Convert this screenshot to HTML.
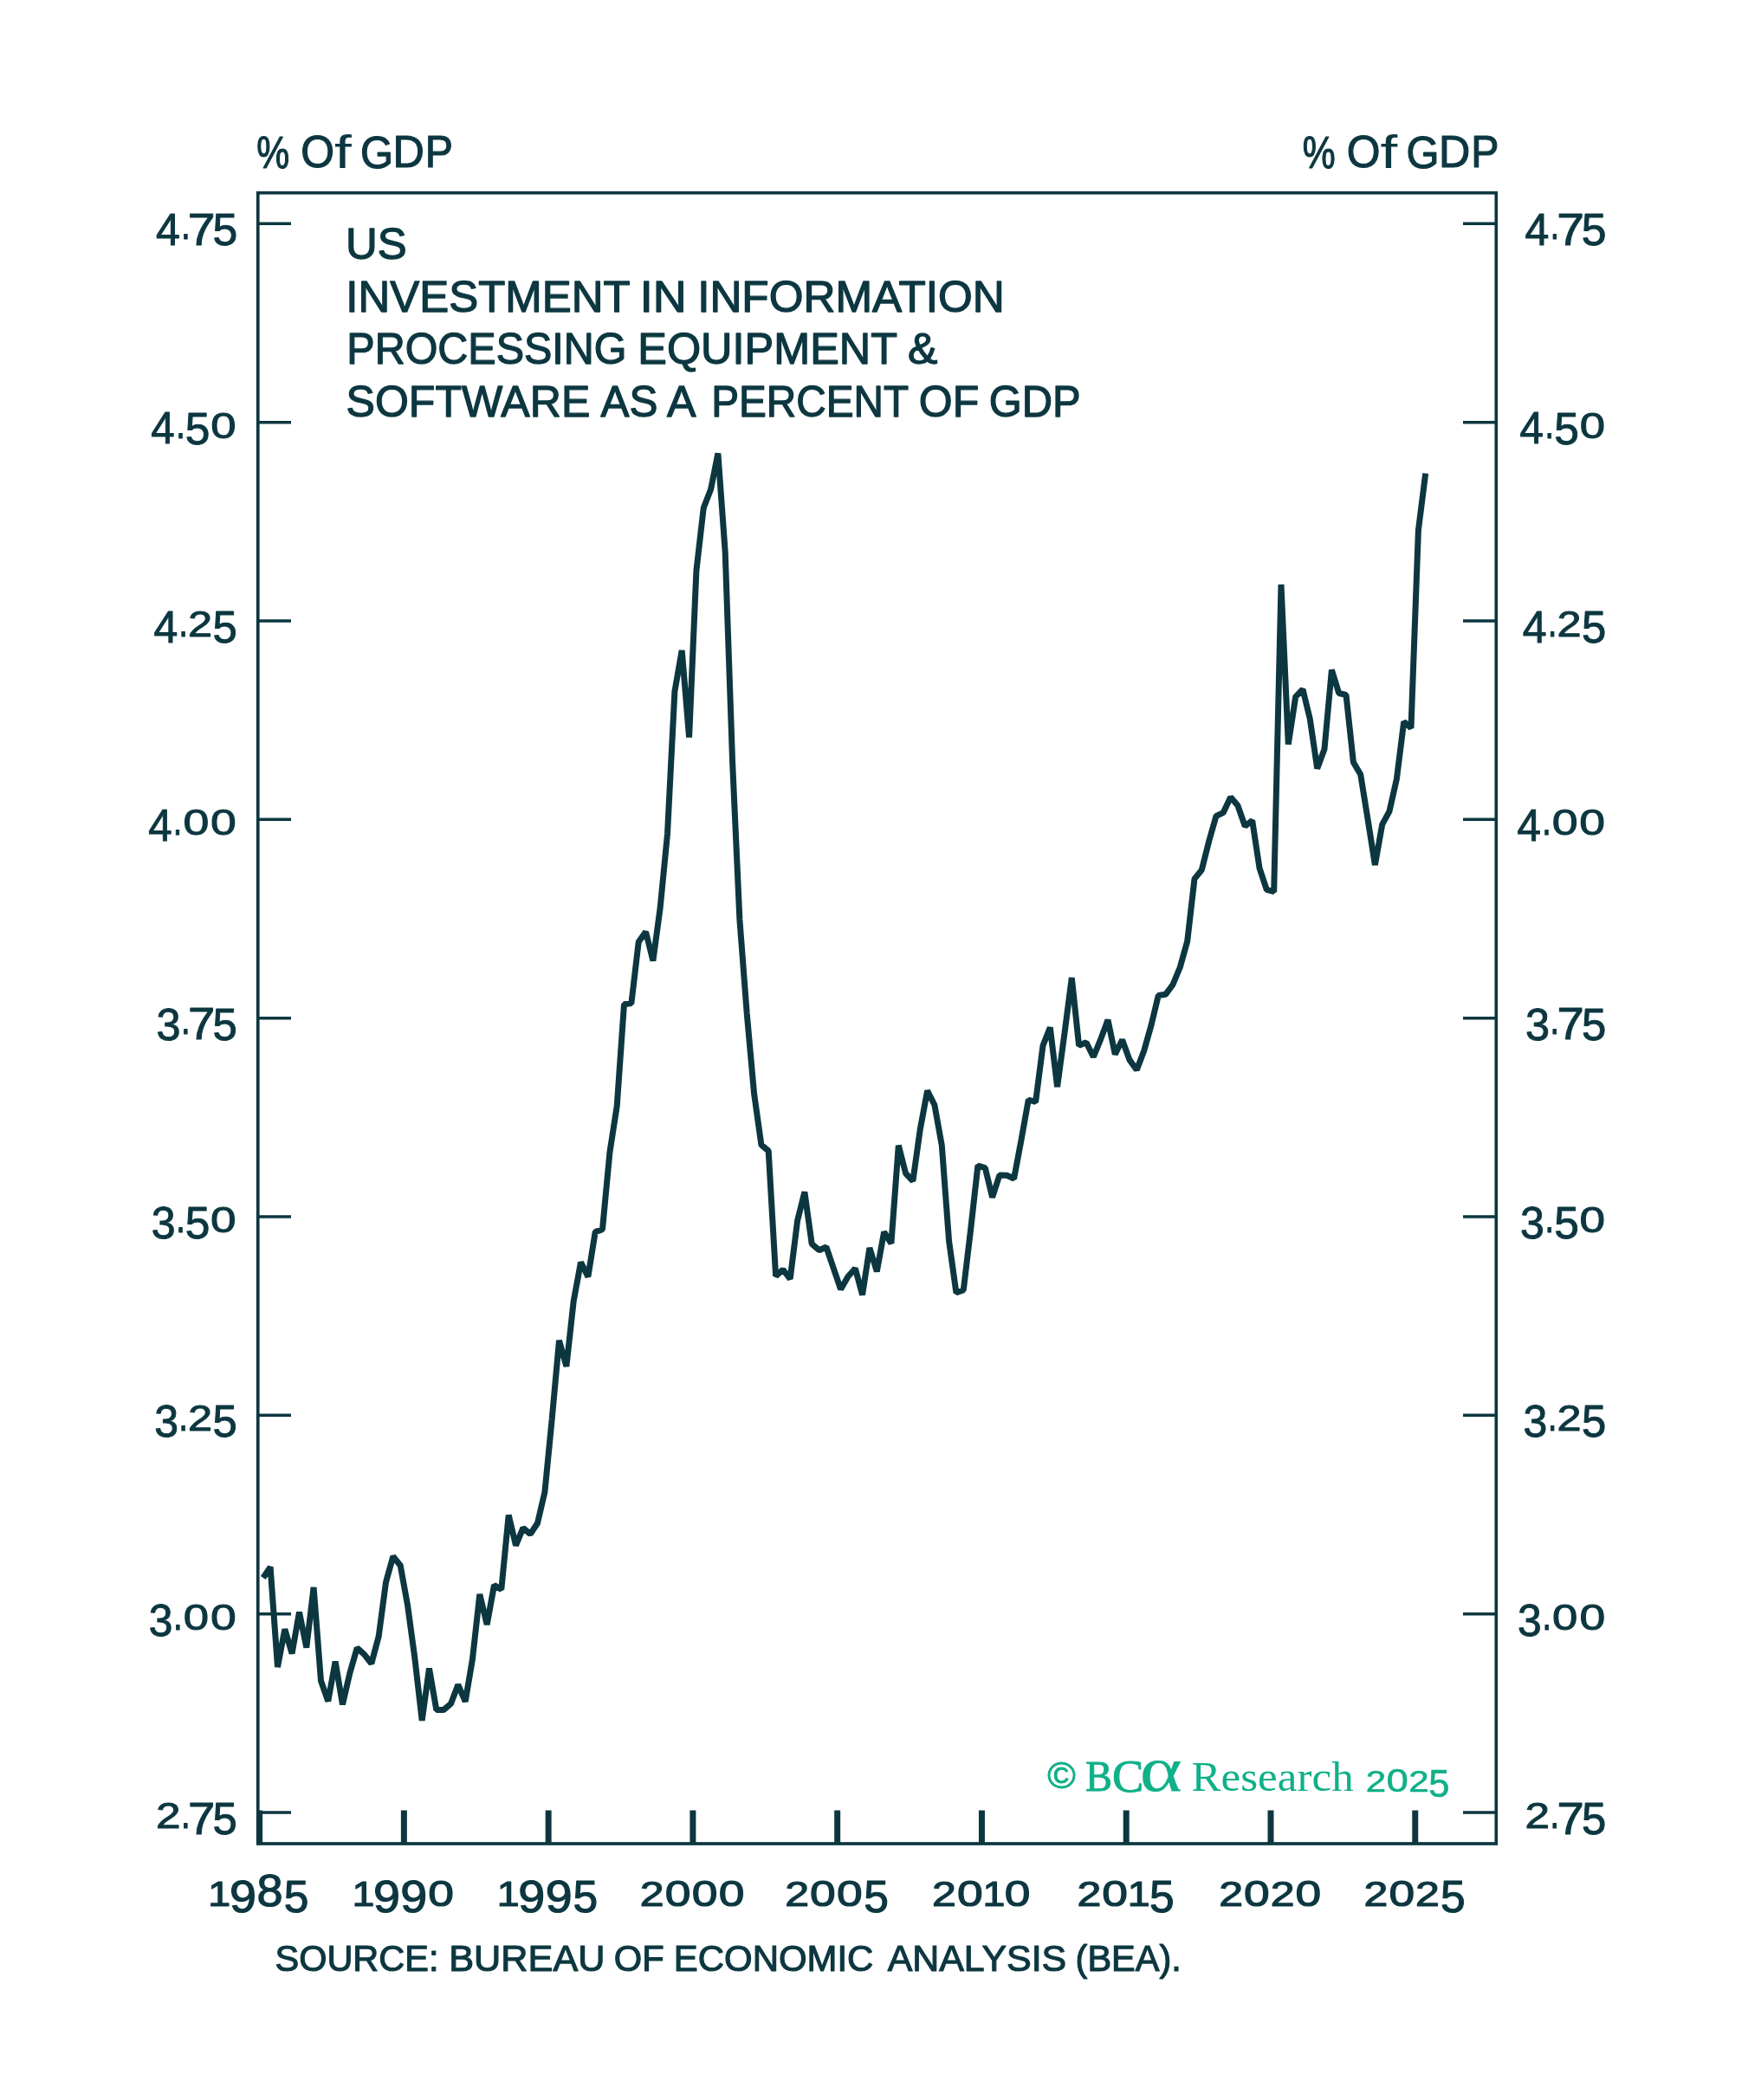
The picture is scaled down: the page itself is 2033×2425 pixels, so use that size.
<!DOCTYPE html>
<html lang="en"><head><meta charset="utf-8"><title>US Investment in Information Processing Equipment &amp; Software as a Percent of GDP</title>
<style>html,body{margin:0;padding:0;background:#fff;}svg{display:block;will-change:transform}</style></head><body>
<svg width="2033" height="2425" viewBox="0 0 2033 2425">
<rect width="2033" height="2425" fill="#fff"/>
<g fill="none" stroke="#0d3740">
<rect x="297.75" y="222.70" width="1429.55" height="1906.30" stroke-width="3.7"/>
<line x1="297.75" y1="258.30" x2="336" y2="258.30" stroke-width="3.5"/>
<line x1="1689" y1="258.30" x2="1727.30" y2="258.30" stroke-width="3.5"/>
<line x1="297.75" y1="487.64" x2="336" y2="487.64" stroke-width="3.5"/>
<line x1="1689" y1="487.64" x2="1727.30" y2="487.64" stroke-width="3.5"/>
<line x1="297.75" y1="716.98" x2="336" y2="716.98" stroke-width="3.5"/>
<line x1="1689" y1="716.98" x2="1727.30" y2="716.98" stroke-width="3.5"/>
<line x1="297.75" y1="946.32" x2="336" y2="946.32" stroke-width="3.5"/>
<line x1="1689" y1="946.32" x2="1727.30" y2="946.32" stroke-width="3.5"/>
<line x1="297.75" y1="1175.66" x2="336" y2="1175.66" stroke-width="3.5"/>
<line x1="1689" y1="1175.66" x2="1727.30" y2="1175.66" stroke-width="3.5"/>
<line x1="297.75" y1="1405.00" x2="336" y2="1405.00" stroke-width="3.5"/>
<line x1="1689" y1="1405.00" x2="1727.30" y2="1405.00" stroke-width="3.5"/>
<line x1="297.75" y1="1634.34" x2="336" y2="1634.34" stroke-width="3.5"/>
<line x1="1689" y1="1634.34" x2="1727.30" y2="1634.34" stroke-width="3.5"/>
<line x1="297.75" y1="1863.68" x2="336" y2="1863.68" stroke-width="3.5"/>
<line x1="1689" y1="1863.68" x2="1727.30" y2="1863.68" stroke-width="3.5"/>
<line x1="297.75" y1="2093.02" x2="336" y2="2093.02" stroke-width="3.5"/>
<line x1="1689" y1="2093.02" x2="1727.30" y2="2093.02" stroke-width="3.5"/>
<line x1="299.60" y1="2090.5" x2="299.60" y2="2129.00" stroke-width="7"/>
<line x1="466.37" y1="2090.5" x2="466.37" y2="2129.00" stroke-width="7"/>
<line x1="633.14" y1="2090.5" x2="633.14" y2="2129.00" stroke-width="7"/>
<line x1="799.91" y1="2090.5" x2="799.91" y2="2129.00" stroke-width="7"/>
<line x1="966.68" y1="2090.5" x2="966.68" y2="2129.00" stroke-width="7"/>
<line x1="1133.45" y1="2090.5" x2="1133.45" y2="2129.00" stroke-width="7"/>
<line x1="1300.22" y1="2090.5" x2="1300.22" y2="2129.00" stroke-width="7"/>
<line x1="1466.99" y1="2090.5" x2="1466.99" y2="2129.00" stroke-width="7"/>
<line x1="1633.76" y1="2090.5" x2="1633.76" y2="2129.00" stroke-width="7"/>
</g>
<polyline fill="none" stroke="#0d3740" stroke-width="7" stroke-linejoin="bevel" stroke-linecap="butt" points="303.8,1822.0 312.1,1809.6 320.5,1925.0 328.8,1881.3 337.1,1909.5 345.5,1861.6 353.8,1902.5 362.1,1833.0 370.5,1941.0 378.8,1964.5 387.1,1918.5 395.5,1968.3 403.8,1932.2 412.2,1903.0 420.5,1910.3 428.8,1921.0 437.2,1889.5 445.5,1827.1 453.8,1797.3 462.2,1807.7 470.5,1853.3 478.8,1914.3 487.2,1986.8 495.5,1926.6 503.8,1974.5 512.2,1974.5 520.5,1967.4 528.8,1945.5 537.2,1964.8 545.5,1915.6 553.8,1841.0 562.2,1876.0 570.5,1830.5 578.8,1835.5 587.2,1749.5 595.5,1784.6 603.9,1764.4 612.2,1771.5 620.5,1759.0 628.9,1723.0 637.2,1638.8 645.5,1547.9 653.9,1577.9 662.2,1502.5 670.5,1457.7 678.9,1474.3 687.2,1422.6 695.5,1419.6 703.9,1331.0 712.2,1277.4 720.5,1159.8 728.9,1158.6 737.2,1087.8 745.5,1076.0 753.9,1109.5 762.2,1048.0 770.5,963.0 778.9,798.5 787.2,751.0 795.6,851.5 803.9,659.2 812.2,586.8 820.6,565.1 828.9,523.5 837.2,637.5 845.6,880.0 853.9,1062.0 862.2,1170.0 870.6,1263.0 878.9,1322.0 887.2,1329.0 895.6,1473.6 903.9,1466.1 912.2,1476.8 920.6,1409.6 928.9,1376.4 937.2,1436.4 945.6,1443.7 953.9,1440.0 962.2,1464.3 970.6,1488.8 978.9,1474.2 987.3,1464.7 995.6,1495.3 1003.9,1441.0 1012.3,1468.3 1020.6,1422.7 1028.9,1435.8 1037.3,1322.7 1045.6,1355.0 1053.9,1363.8 1062.3,1304.0 1070.6,1259.5 1078.9,1276.0 1087.3,1322.7 1095.6,1433.3 1103.9,1492.7 1112.3,1489.7 1120.6,1420.0 1128.9,1346.0 1137.3,1348.5 1145.6,1382.8 1153.9,1357.0 1162.3,1357.2 1170.6,1361.0 1179.0,1316.3 1187.3,1270.0 1195.6,1272.5 1204.0,1207.5 1212.3,1186.5 1220.6,1255.0 1229.0,1193.0 1237.3,1129.0 1245.6,1207.3 1254.0,1203.8 1262.3,1220.5 1270.6,1200.4 1279.0,1177.7 1287.3,1217.5 1295.6,1200.8 1304.0,1223.9 1312.3,1235.5 1320.6,1213.7 1329.0,1184.0 1337.3,1149.5 1345.6,1148.3 1354.0,1137.0 1362.3,1117.0 1370.7,1087.0 1379.0,1014.9 1387.3,1004.6 1395.7,971.4 1404.0,942.3 1412.3,938.3 1420.7,920.5 1429.0,930.3 1437.3,954.0 1445.7,947.5 1454.0,1002.3 1462.3,1027.4 1470.7,1029.6 1479.0,675.0 1487.3,859.5 1495.7,804.6 1504.0,796.0 1512.3,830.3 1520.7,887.6 1529.0,865.0 1537.4,773.5 1545.7,800.5 1554.0,802.4 1562.4,880.2 1570.7,894.3 1579.0,945.8 1587.4,999.0 1595.7,952.2 1604.0,936.8 1612.4,899.5 1620.7,833.5 1629.0,840.5 1637.4,612.6 1645.7,546.6"/>
<text font-family='"Liberation Sans", sans-serif' fill="#0d3740" stroke="#0d3740" stroke-width="1.20" stroke-linejoin="round"><tspan x="296.18" y="193.69" font-size="52.31" textLength="37.94" lengthAdjust="spacingAndGlyphs">%</tspan> <tspan x="347.34" y="193.30" font-size="51.41" textLength="38.74" lengthAdjust="spacingAndGlyphs">O</tspan><tspan x="386.09" y="194.00" font-size="53.20" textLength="19.80" lengthAdjust="spacingAndGlyphs" stroke-width="0.01">f</tspan> <tspan x="415.94" y="193.50" font-size="51.69" textLength="38.01" lengthAdjust="spacingAndGlyphs">G</tspan><tspan x="453.47" y="193.40" font-size="51.75" textLength="36.33" lengthAdjust="spacingAndGlyphs">D</tspan><tspan x="490.64" y="193.40" font-size="51.75" textLength="32.21" lengthAdjust="spacingAndGlyphs">P</tspan></text>
<text font-family='"Liberation Sans", sans-serif' fill="#0d3740" stroke="#0d3740" stroke-width="1.20" stroke-linejoin="round"><tspan x="1503.68" y="193.69" font-size="52.31" textLength="37.94" lengthAdjust="spacingAndGlyphs">%</tspan> <tspan x="1554.84" y="193.30" font-size="51.41" textLength="38.74" lengthAdjust="spacingAndGlyphs">O</tspan><tspan x="1593.59" y="194.00" font-size="53.20" textLength="19.80" lengthAdjust="spacingAndGlyphs" stroke-width="0.01">f</tspan> <tspan x="1623.44" y="193.50" font-size="51.69" textLength="38.01" lengthAdjust="spacingAndGlyphs">G</tspan><tspan x="1660.97" y="193.40" font-size="51.75" textLength="36.33" lengthAdjust="spacingAndGlyphs">D</tspan><tspan x="1698.14" y="193.40" font-size="51.75" textLength="32.21" lengthAdjust="spacingAndGlyphs">P</tspan></text>
<text id="t1" y="299.20" font-family='"Liberation Sans", sans-serif' font-size="49.80" fill="#0d3740" stroke="#0d3740" stroke-width="1.30" stroke-linejoin="round"><tspan x="399.07" textLength="70.65" lengthAdjust="spacingAndGlyphs">US</tspan></text>
<text id="t2" y="360.30" font-family='"Liberation Sans", sans-serif' font-size="49.80" fill="#0d3740" stroke="#0d3740" stroke-width="1.30" stroke-linejoin="round"><tspan x="399.38" textLength="327.38" lengthAdjust="spacingAndGlyphs">INVESTMENT</tspan> <tspan x="738.77" textLength="53.85" lengthAdjust="spacingAndGlyphs">IN</tspan> <tspan x="805.18" textLength="354.52" lengthAdjust="spacingAndGlyphs">INFORMATION</tspan></text>
<text id="t3" y="420.20" font-family='"Liberation Sans", sans-serif' font-size="49.80" fill="#0d3740" stroke="#0d3740" stroke-width="1.30" stroke-linejoin="round"><tspan x="400.32" textLength="323.25" lengthAdjust="spacingAndGlyphs">PROCESSING</tspan> <tspan x="736.31" textLength="298.73" lengthAdjust="spacingAndGlyphs">EQUIPMENT</tspan> <tspan x="1048.04" textLength="34.34" lengthAdjust="spacingAndGlyphs">&amp;</tspan></text>
<text id="t4" y="481.30" font-family='"Liberation Sans", sans-serif' font-size="49.80" fill="#0d3740" stroke="#0d3740" stroke-width="1.30" stroke-linejoin="round"><tspan x="399.56" textLength="281.71" lengthAdjust="spacingAndGlyphs">SOFTWARE</tspan> <tspan x="693.46" textLength="65.89" lengthAdjust="spacingAndGlyphs">AS</tspan> <tspan x="770.13" textLength="30.76" lengthAdjust="spacingAndGlyphs">A</tspan> <tspan x="821.29" textLength="226.92" lengthAdjust="spacingAndGlyphs">PERCENT</tspan> <tspan x="1060.82" textLength="69.40" lengthAdjust="spacingAndGlyphs">OF</tspan> <tspan x="1141.67" textLength="105.83" lengthAdjust="spacingAndGlyphs">GDP</tspan></text>
<text id="src" y="2276.30" font-family='"Liberation Sans", sans-serif' font-size="42.90" fill="#0d3740" stroke="#0d3740" stroke-width="1.20" stroke-linejoin="round"><tspan x="317.50" textLength="188.96" lengthAdjust="spacingAndGlyphs">SOURCE:</tspan> <tspan x="518.27" textLength="180.18" lengthAdjust="spacingAndGlyphs">BUREAU</tspan> <tspan x="708.74" textLength="57.94" lengthAdjust="spacingAndGlyphs">OF</tspan> <tspan x="777.84" textLength="230.54" lengthAdjust="spacingAndGlyphs">ECONOMIC</tspan> <tspan x="1024.73" textLength="206.51" lengthAdjust="spacingAndGlyphs">ANALYSIS</tspan> <tspan x="1241.59" textLength="122.20" lengthAdjust="spacingAndGlyphs">(BEA).</tspan></text>
<text font-family='"Liberation Sans", sans-serif' font-weight="normal" fill="#0d3740" stroke="#0d3740" stroke-width="1.00" stroke-linejoin="round"><tspan x="180.05" y="282.90" font-size="51.16" textLength="27.81" lengthAdjust="spacingAndGlyphs">4</tspan><tspan x="209.05" y="276.30" font-size="51.43" textLength="10.80" lengthAdjust="spacingAndGlyphs">.</tspan><tspan x="216.77" y="283.00" font-size="52.33" textLength="31.81" lengthAdjust="spacingAndGlyphs">7</tspan><tspan x="245.43" y="283.39" font-size="51.74" textLength="28.74" lengthAdjust="spacingAndGlyphs">5</tspan></text>
<text font-family='"Liberation Sans", sans-serif' font-weight="normal" fill="#0d3740" stroke="#0d3740" stroke-width="1.00" stroke-linejoin="round"><tspan x="1760.45" y="282.90" font-size="51.16" textLength="27.81" lengthAdjust="spacingAndGlyphs">4</tspan><tspan x="1789.45" y="276.30" font-size="51.43" textLength="10.80" lengthAdjust="spacingAndGlyphs">.</tspan><tspan x="1797.17" y="283.00" font-size="52.33" textLength="31.81" lengthAdjust="spacingAndGlyphs">7</tspan><tspan x="1825.83" y="283.39" font-size="51.74" textLength="28.74" lengthAdjust="spacingAndGlyphs">5</tspan></text>
<text font-family='"Liberation Sans", sans-serif' font-weight="normal" fill="#0d3740" stroke="#0d3740" stroke-width="1.00" stroke-linejoin="round"><tspan x="174.17" y="512.24" font-size="51.16" textLength="27.37" lengthAdjust="spacingAndGlyphs">4</tspan><tspan x="202.96" y="505.64" font-size="51.43" textLength="11.09" lengthAdjust="spacingAndGlyphs">.</tspan><tspan x="213.84" y="512.73" font-size="51.74" textLength="28.62" lengthAdjust="spacingAndGlyphs">5</tspan><tspan x="243.34" y="505.52" font-size="42.80" textLength="29.32" lengthAdjust="spacingAndGlyphs">0</tspan></text>
<text font-family='"Liberation Sans", sans-serif' font-weight="normal" fill="#0d3740" stroke="#0d3740" stroke-width="1.00" stroke-linejoin="round"><tspan x="1754.57" y="512.24" font-size="51.16" textLength="27.37" lengthAdjust="spacingAndGlyphs">4</tspan><tspan x="1783.36" y="505.64" font-size="51.43" textLength="11.09" lengthAdjust="spacingAndGlyphs">.</tspan><tspan x="1794.24" y="512.73" font-size="51.74" textLength="28.62" lengthAdjust="spacingAndGlyphs">5</tspan><tspan x="1823.74" y="505.52" font-size="42.80" textLength="29.32" lengthAdjust="spacingAndGlyphs">0</tspan></text>
<text font-family='"Liberation Sans", sans-serif' font-weight="normal" fill="#0d3740" stroke="#0d3740" stroke-width="1.00" stroke-linejoin="round"><tspan x="177.45" y="741.58" font-size="51.16" textLength="27.81" lengthAdjust="spacingAndGlyphs">4</tspan><tspan x="206.25" y="734.98" font-size="51.43" textLength="10.80" lengthAdjust="spacingAndGlyphs">.</tspan><tspan x="217.06" y="734.98" font-size="41.82" textLength="28.08" lengthAdjust="spacingAndGlyphs">2</tspan><tspan x="245.56" y="742.07" font-size="51.74" textLength="28.27" lengthAdjust="spacingAndGlyphs">5</tspan></text>
<text font-family='"Liberation Sans", sans-serif' font-weight="normal" fill="#0d3740" stroke="#0d3740" stroke-width="1.00" stroke-linejoin="round"><tspan x="1757.85" y="741.58" font-size="51.16" textLength="27.81" lengthAdjust="spacingAndGlyphs">4</tspan><tspan x="1786.65" y="734.98" font-size="51.43" textLength="10.80" lengthAdjust="spacingAndGlyphs">.</tspan><tspan x="1797.46" y="734.98" font-size="41.82" textLength="28.08" lengthAdjust="spacingAndGlyphs">2</tspan><tspan x="1825.96" y="742.07" font-size="51.74" textLength="28.27" lengthAdjust="spacingAndGlyphs">5</tspan></text>
<text font-family='"Liberation Sans", sans-serif' font-weight="normal" fill="#0d3740" stroke="#0d3740" stroke-width="1.00" stroke-linejoin="round"><tspan x="171.17" y="970.92" font-size="51.16" textLength="27.37" lengthAdjust="spacingAndGlyphs">4</tspan><tspan x="199.85" y="964.32" font-size="51.43" textLength="10.50" lengthAdjust="spacingAndGlyphs">.</tspan><tspan x="211.40" y="964.20" font-size="42.80" textLength="29.90" lengthAdjust="spacingAndGlyphs">0</tspan><tspan x="242.91" y="964.20" font-size="42.80" textLength="29.78" lengthAdjust="spacingAndGlyphs">0</tspan></text>
<text font-family='"Liberation Sans", sans-serif' font-weight="normal" fill="#0d3740" stroke="#0d3740" stroke-width="1.00" stroke-linejoin="round"><tspan x="1751.57" y="970.92" font-size="51.16" textLength="27.37" lengthAdjust="spacingAndGlyphs">4</tspan><tspan x="1780.25" y="964.32" font-size="51.43" textLength="10.50" lengthAdjust="spacingAndGlyphs">.</tspan><tspan x="1791.80" y="964.20" font-size="42.80" textLength="29.90" lengthAdjust="spacingAndGlyphs">0</tspan><tspan x="1823.31" y="964.20" font-size="42.80" textLength="29.78" lengthAdjust="spacingAndGlyphs">0</tspan></text>
<text font-family='"Liberation Sans", sans-serif' font-weight="normal" fill="#0d3740" stroke="#0d3740" stroke-width="1.00" stroke-linejoin="round"><tspan x="180.58" y="1200.76" font-size="51.41" textLength="28.04" lengthAdjust="spacingAndGlyphs">3</tspan><tspan x="208.86" y="1193.66" font-size="51.43" textLength="11.09" lengthAdjust="spacingAndGlyphs">.</tspan><tspan x="217.01" y="1200.36" font-size="52.33" textLength="31.32" lengthAdjust="spacingAndGlyphs">7</tspan><tspan x="245.56" y="1200.75" font-size="51.74" textLength="28.27" lengthAdjust="spacingAndGlyphs">5</tspan></text>
<text font-family='"Liberation Sans", sans-serif' font-weight="normal" fill="#0d3740" stroke="#0d3740" stroke-width="1.00" stroke-linejoin="round"><tspan x="1760.98" y="1200.76" font-size="51.41" textLength="28.04" lengthAdjust="spacingAndGlyphs">3</tspan><tspan x="1789.26" y="1193.66" font-size="51.43" textLength="11.09" lengthAdjust="spacingAndGlyphs">.</tspan><tspan x="1797.41" y="1200.36" font-size="52.33" textLength="31.32" lengthAdjust="spacingAndGlyphs">7</tspan><tspan x="1825.96" y="1200.75" font-size="51.74" textLength="28.27" lengthAdjust="spacingAndGlyphs">5</tspan></text>
<text font-family='"Liberation Sans", sans-serif' font-weight="normal" fill="#0d3740" stroke="#0d3740" stroke-width="1.00" stroke-linejoin="round"><tspan x="174.70" y="1430.10" font-size="51.41" textLength="27.80" lengthAdjust="spacingAndGlyphs">3</tspan><tspan x="202.96" y="1423.00" font-size="51.43" textLength="11.09" lengthAdjust="spacingAndGlyphs">.</tspan><tspan x="213.84" y="1430.09" font-size="51.74" textLength="28.62" lengthAdjust="spacingAndGlyphs">5</tspan><tspan x="243.12" y="1422.88" font-size="42.80" textLength="29.55" lengthAdjust="spacingAndGlyphs">0</tspan></text>
<text font-family='"Liberation Sans", sans-serif' font-weight="normal" fill="#0d3740" stroke="#0d3740" stroke-width="1.00" stroke-linejoin="round"><tspan x="1755.10" y="1430.10" font-size="51.41" textLength="27.80" lengthAdjust="spacingAndGlyphs">3</tspan><tspan x="1783.36" y="1423.00" font-size="51.43" textLength="11.09" lengthAdjust="spacingAndGlyphs">.</tspan><tspan x="1794.24" y="1430.09" font-size="51.74" textLength="28.62" lengthAdjust="spacingAndGlyphs">5</tspan><tspan x="1823.52" y="1422.88" font-size="42.80" textLength="29.55" lengthAdjust="spacingAndGlyphs">0</tspan></text>
<text font-family='"Liberation Sans", sans-serif' font-weight="normal" fill="#0d3740" stroke="#0d3740" stroke-width="1.00" stroke-linejoin="round"><tspan x="178.20" y="1659.44" font-size="51.41" textLength="27.80" lengthAdjust="spacingAndGlyphs">3</tspan><tspan x="206.25" y="1652.34" font-size="51.43" textLength="10.80" lengthAdjust="spacingAndGlyphs">.</tspan><tspan x="217.06" y="1652.34" font-size="41.82" textLength="28.08" lengthAdjust="spacingAndGlyphs">2</tspan><tspan x="245.56" y="1659.43" font-size="51.74" textLength="28.27" lengthAdjust="spacingAndGlyphs">5</tspan></text>
<text font-family='"Liberation Sans", sans-serif' font-weight="normal" fill="#0d3740" stroke="#0d3740" stroke-width="1.00" stroke-linejoin="round"><tspan x="1758.60" y="1659.44" font-size="51.41" textLength="27.80" lengthAdjust="spacingAndGlyphs">3</tspan><tspan x="1786.65" y="1652.34" font-size="51.43" textLength="10.80" lengthAdjust="spacingAndGlyphs">.</tspan><tspan x="1797.46" y="1652.34" font-size="41.82" textLength="28.08" lengthAdjust="spacingAndGlyphs">2</tspan><tspan x="1825.96" y="1659.43" font-size="51.74" textLength="28.27" lengthAdjust="spacingAndGlyphs">5</tspan></text>
<text font-family='"Liberation Sans", sans-serif' font-weight="normal" fill="#0d3740" stroke="#0d3740" stroke-width="1.00" stroke-linejoin="round"><tspan x="171.70" y="1888.78" font-size="51.41" textLength="27.68" lengthAdjust="spacingAndGlyphs">3</tspan><tspan x="199.76" y="1881.68" font-size="51.43" textLength="11.09" lengthAdjust="spacingAndGlyphs">.</tspan><tspan x="211.74" y="1881.56" font-size="42.80" textLength="29.32" lengthAdjust="spacingAndGlyphs">0</tspan><tspan x="243.11" y="1881.56" font-size="42.80" textLength="29.78" lengthAdjust="spacingAndGlyphs">0</tspan></text>
<text font-family='"Liberation Sans", sans-serif' font-weight="normal" fill="#0d3740" stroke="#0d3740" stroke-width="1.00" stroke-linejoin="round"><tspan x="1752.10" y="1888.78" font-size="51.41" textLength="27.68" lengthAdjust="spacingAndGlyphs">3</tspan><tspan x="1780.16" y="1881.68" font-size="51.43" textLength="11.09" lengthAdjust="spacingAndGlyphs">.</tspan><tspan x="1792.14" y="1881.56" font-size="42.80" textLength="29.32" lengthAdjust="spacingAndGlyphs">0</tspan><tspan x="1823.51" y="1881.56" font-size="42.80" textLength="29.78" lengthAdjust="spacingAndGlyphs">0</tspan></text>
<text font-family='"Liberation Sans", sans-serif' font-weight="normal" fill="#0d3740" stroke="#0d3740" stroke-width="1.00" stroke-linejoin="round"><tspan x="180.02" y="2111.02" font-size="41.82" textLength="28.57" lengthAdjust="spacingAndGlyphs">2</tspan><tspan x="208.86" y="2111.02" font-size="51.43" textLength="11.09" lengthAdjust="spacingAndGlyphs">.</tspan><tspan x="217.01" y="2117.72" font-size="52.33" textLength="31.32" lengthAdjust="spacingAndGlyphs">7</tspan><tspan x="245.56" y="2118.11" font-size="51.74" textLength="28.27" lengthAdjust="spacingAndGlyphs">5</tspan></text>
<text font-family='"Liberation Sans", sans-serif' font-weight="normal" fill="#0d3740" stroke="#0d3740" stroke-width="1.00" stroke-linejoin="round"><tspan x="1760.42" y="2111.02" font-size="41.82" textLength="28.57" lengthAdjust="spacingAndGlyphs">2</tspan><tspan x="1789.26" y="2111.02" font-size="51.43" textLength="11.09" lengthAdjust="spacingAndGlyphs">.</tspan><tspan x="1797.41" y="2117.72" font-size="52.33" textLength="31.32" lengthAdjust="spacingAndGlyphs">7</tspan><tspan x="1825.96" y="2118.11" font-size="51.74" textLength="28.27" lengthAdjust="spacingAndGlyphs">5</tspan></text>
<text font-family='"Liberation Sans", sans-serif' font-weight="normal" fill="#0d3740" stroke="#0d3740" stroke-width="1.20" stroke-linejoin="round"><tspan x="240.35" y="2201.10" font-size="41.57" textLength="25.93" lengthAdjust="spacingAndGlyphs">1</tspan><tspan x="264.99" y="2208.40" font-size="51.27" textLength="30.94" lengthAdjust="spacingAndGlyphs">9</tspan><tspan x="296.55" y="2200.90" font-size="51.27" textLength="30.10" lengthAdjust="spacingAndGlyphs">8</tspan><tspan x="327.84" y="2208.39" font-size="52.02" textLength="28.62" lengthAdjust="spacingAndGlyphs">5</tspan></text>
<text font-family='"Liberation Sans", sans-serif' font-weight="normal" fill="#0d3740" stroke="#0d3740" stroke-width="1.20" stroke-linejoin="round"><tspan x="406.42" y="2201.10" font-size="41.57" textLength="25.93" lengthAdjust="spacingAndGlyphs">1</tspan><tspan x="431.06" y="2208.40" font-size="51.27" textLength="30.94" lengthAdjust="spacingAndGlyphs">9</tspan><tspan x="462.36" y="2208.40" font-size="51.27" textLength="30.94" lengthAdjust="spacingAndGlyphs">9</tspan><tspan x="494.19" y="2200.88" font-size="42.94" textLength="29.67" lengthAdjust="spacingAndGlyphs">0</tspan></text>
<text font-family='"Liberation Sans", sans-serif' font-weight="normal" fill="#0d3740" stroke="#0d3740" stroke-width="1.20" stroke-linejoin="round"><tspan x="573.74" y="2201.10" font-size="41.57" textLength="25.93" lengthAdjust="spacingAndGlyphs">1</tspan><tspan x="598.38" y="2208.40" font-size="51.27" textLength="30.94" lengthAdjust="spacingAndGlyphs">9</tspan><tspan x="629.68" y="2208.40" font-size="51.27" textLength="30.94" lengthAdjust="spacingAndGlyphs">9</tspan><tspan x="661.53" y="2208.39" font-size="52.02" textLength="28.62" lengthAdjust="spacingAndGlyphs">5</tspan></text>
<text font-family='"Liberation Sans", sans-serif' font-weight="normal" fill="#0d3740" stroke="#0d3740" stroke-width="1.20" stroke-linejoin="round"><tspan x="738.84" y="2200.50" font-size="40.96" textLength="27.83" lengthAdjust="spacingAndGlyphs">2</tspan><tspan x="767.68" y="2200.88" font-size="42.94" textLength="29.67" lengthAdjust="spacingAndGlyphs">0</tspan><tspan x="798.78" y="2200.88" font-size="42.94" textLength="29.67" lengthAdjust="spacingAndGlyphs">0</tspan><tspan x="829.88" y="2200.88" font-size="42.94" textLength="29.67" lengthAdjust="spacingAndGlyphs">0</tspan></text>
<text font-family='"Liberation Sans", sans-serif' font-weight="normal" fill="#0d3740" stroke="#0d3740" stroke-width="1.20" stroke-linejoin="round"><tspan x="906.16" y="2200.50" font-size="40.96" textLength="27.83" lengthAdjust="spacingAndGlyphs">2</tspan><tspan x="935.00" y="2200.88" font-size="42.94" textLength="29.67" lengthAdjust="spacingAndGlyphs">0</tspan><tspan x="966.10" y="2200.88" font-size="42.94" textLength="29.67" lengthAdjust="spacingAndGlyphs">0</tspan><tspan x="997.22" y="2208.39" font-size="52.02" textLength="28.62" lengthAdjust="spacingAndGlyphs">5</tspan></text>
<text font-family='"Liberation Sans", sans-serif' font-weight="normal" fill="#0d3740" stroke="#0d3740" stroke-width="1.20" stroke-linejoin="round"><tspan x="1076.08" y="2200.50" font-size="40.96" textLength="27.83" lengthAdjust="spacingAndGlyphs">2</tspan><tspan x="1104.92" y="2200.88" font-size="42.94" textLength="29.67" lengthAdjust="spacingAndGlyphs">0</tspan><tspan x="1134.55" y="2201.10" font-size="41.57" textLength="25.93" lengthAdjust="spacingAndGlyphs">1</tspan><tspan x="1159.72" y="2200.88" font-size="42.94" textLength="29.67" lengthAdjust="spacingAndGlyphs">0</tspan></text>
<text font-family='"Liberation Sans", sans-serif' font-weight="normal" fill="#0d3740" stroke="#0d3740" stroke-width="1.20" stroke-linejoin="round"><tspan x="1243.40" y="2200.50" font-size="40.96" textLength="27.83" lengthAdjust="spacingAndGlyphs">2</tspan><tspan x="1272.24" y="2200.88" font-size="42.94" textLength="29.67" lengthAdjust="spacingAndGlyphs">0</tspan><tspan x="1301.87" y="2201.10" font-size="41.57" textLength="25.93" lengthAdjust="spacingAndGlyphs">1</tspan><tspan x="1327.06" y="2208.39" font-size="52.02" textLength="28.62" lengthAdjust="spacingAndGlyphs">5</tspan></text>
<text font-family='"Liberation Sans", sans-serif' font-weight="normal" fill="#0d3740" stroke="#0d3740" stroke-width="1.20" stroke-linejoin="round"><tspan x="1407.27" y="2200.50" font-size="40.96" textLength="27.83" lengthAdjust="spacingAndGlyphs">2</tspan><tspan x="1436.11" y="2200.88" font-size="42.94" textLength="29.67" lengthAdjust="spacingAndGlyphs">0</tspan><tspan x="1466.77" y="2200.50" font-size="40.96" textLength="27.83" lengthAdjust="spacingAndGlyphs">2</tspan><tspan x="1495.61" y="2200.88" font-size="42.94" textLength="29.67" lengthAdjust="spacingAndGlyphs">0</tspan></text>
<text font-family='"Liberation Sans", sans-serif' font-weight="normal" fill="#0d3740" stroke="#0d3740" stroke-width="1.20" stroke-linejoin="round"><tspan x="1574.59" y="2200.50" font-size="40.96" textLength="27.83" lengthAdjust="spacingAndGlyphs">2</tspan><tspan x="1603.43" y="2200.88" font-size="42.94" textLength="29.67" lengthAdjust="spacingAndGlyphs">0</tspan><tspan x="1634.09" y="2200.50" font-size="40.96" textLength="27.83" lengthAdjust="spacingAndGlyphs">2</tspan><tspan x="1662.95" y="2208.39" font-size="52.02" textLength="28.62" lengthAdjust="spacingAndGlyphs">5</tspan></text>
<text font-family='"Liberation Sans", sans-serif' font-weight="normal" fill="#10b088" stroke="#10b088" stroke-width="0.90" stroke-linejoin="round"><tspan x="1209.28" y="2064.91" font-size="43.20" textLength="32.56" lengthAdjust="spacingAndGlyphs">©</tspan></text>
<text font-family='"Liberation Serif", serif' font-weight="normal" fill="#10b088" stroke="#10b088" stroke-width="1.00" stroke-linejoin="round"><tspan x="1253.37" y="2068.15" font-size="51.54" textLength="30.78" lengthAdjust="spacingAndGlyphs">B</tspan><tspan x="1284.07" y="2068.68" font-size="53.28" textLength="36.34" lengthAdjust="spacingAndGlyphs">C</tspan></text>
<text font-family='"Liberation Serif", serif' font-weight="normal" fill="#10b088" stroke="#10b088" stroke-width="0.20" stroke-linejoin="round"><tspan x="1315.73" y="2068.18" font-size="73.53" textLength="49.07" lengthAdjust="spacingAndGlyphs">α</tspan></text>
<text id="research" x="1375.44" y="2068.40" font-family='"Liberation Serif", serif' font-weight="normal" font-size="48.00" fill="#10b088" textLength="187.28" lengthAdjust="spacingAndGlyphs">Research</text>
<text font-family='"Liberation Sans", sans-serif' font-weight="normal" fill="#10b088" stroke="#10b088" stroke-width="0.60" stroke-linejoin="round"><tspan x="1576.89" y="2068.90" font-size="34.94" textLength="23.32" lengthAdjust="spacingAndGlyphs">2</tspan><tspan x="1600.74" y="2068.85" font-size="36.30" textLength="25.01" lengthAdjust="spacingAndGlyphs">0</tspan><tspan x="1626.29" y="2068.90" font-size="34.94" textLength="23.32" lengthAdjust="spacingAndGlyphs">2</tspan><tspan x="1649.16" y="2074.87" font-size="44.14" textLength="24.16" lengthAdjust="spacingAndGlyphs">5</tspan></text>
</svg></body></html>
